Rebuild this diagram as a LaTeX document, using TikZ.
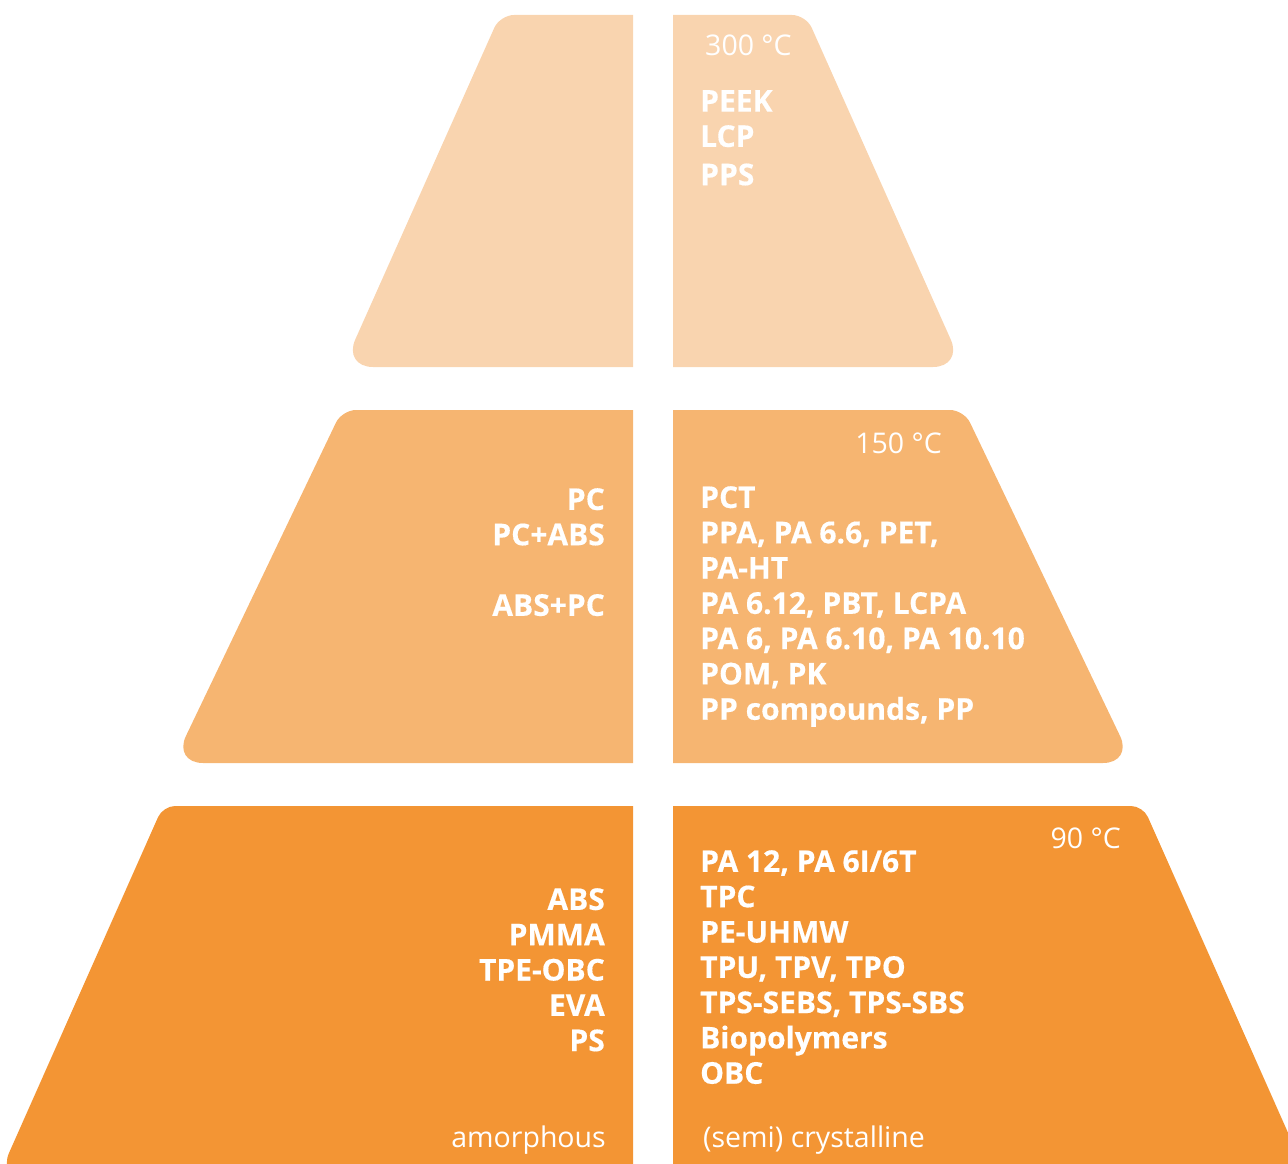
\documentclass[tikz,border=0pt]{standalone}
\usepackage{fontspec}
\setmainfont{Open Sans}

\definecolor{hotgrade}{HTML}{F9D4AF}
\definecolor{warmgrade}{HTML}{F6B571}
\definecolor{mildgrade}{HTML}{F39534}

\begin{document}
\begin{tikzpicture}[
    x=1pt, y=-1pt,
    grade/.style={text=white, inner sep=0pt, font=\bfseries\addfontfeatures{FakeBold=0.4}\fontsize{30}{35.3}\selectfont},
    gradeL/.style={grade, anchor=north east, align=right},
    gradeR/.style={grade, anchor=north west, align=left},
    temp/.style={text=white, inner sep=0pt, font=\fontsize{28.5}{35.3}\selectfont},
]
\useasboundingbox (0,0) rectangle (1288,1164);
\clip (0,0) rectangle (1288,1164);

% Top tier
\fill[hotgrade] (633,15) [rounded corners=14] -- (500,15) [rounded corners=30] -- (343,367) [sharp corners] -- (633,367) -- cycle;
\fill[hotgrade] (673,15) [rounded corners=14] -- (806,15) [rounded corners=30] -- (963,367) [sharp corners] -- (673,367) -- cycle;

% Middle tier
\fill[warmgrade] (633,410) [rounded corners=14] -- (342,410) [rounded corners=30] -- (173,763) [sharp corners] -- (633,763) -- cycle;
\fill[warmgrade] (673,410) [rounded corners=14] -- (964,410) [rounded corners=30] -- (1133,763) [sharp corners] -- (673,763) -- cycle;

% Bottom tier
\fill[mildgrade] (633,806) [rounded corners=12] -- (163,806) [rounded corners=30] -- (-3,1180) [sharp corners] -- (633,1180) -- cycle;
\fill[mildgrade] (673,806) [rounded corners=12] -- (1143,806) [rounded corners=30] -- (1309,1180) [sharp corners] -- (673,1180) -- cycle;

% Temperatures
\node[temp, anchor=north west] (t300) at (705,35) {300 °C};
\node[temp, anchor=north east] (t150) at (942,433) {150 °C};
\node[temp, anchor=north east] (t90) at (1121,828) {90 °C};

% Materials
\node[gradeR] (peek) at (700,90) {PEEK\\LCP\\[3pt]PPS};
\node[gradeL] (pc) at (605,488) {PC\\PC+ABS\\[35.3pt]ABS+PC};
\node[gradeR] (pct) at (700,486) {PCT\\PPA, PA 6.6, PET,\\PA-HT\\PA 6.12, PBT, LCPA\\PA 6, PA 6.10, PA 10.10\\POM, PK\\PP compounds, PP};
\node[gradeL] (abs) at (605,888) {ABS\\PMMA\\TPE-OBC\\EVA\\PS};
\node[gradeR] (pa12) at (700,850) {PA 12, PA 6I/6T\\TPC\\PE-UHMW\\TPU, TPV, TPO\\TPS-SEBS, TPS-SBS\\Biopolymers\\OBC};

% Structure classes
\node[temp, anchor=base east] (amorph) at (606,1147) {amorphous};
\node[temp, anchor=base west] (cryst) at (703,1147) {(semi) crystalline};

\end{tikzpicture}
\end{document}
